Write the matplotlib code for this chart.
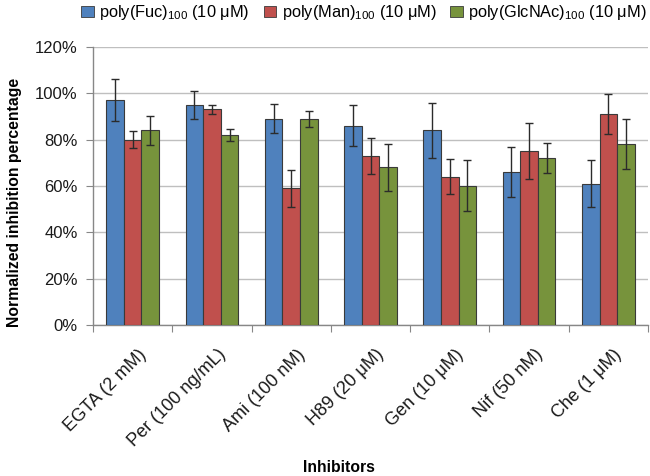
import numpy as np
import matplotlib
matplotlib.use('Agg')
import matplotlib.pyplot as plt
from matplotlib.patches import Patch
from matplotlib.ticker import FixedLocator, PercentFormatter
import matplotlib.transforms as mtransforms

plt.rcParams['font.family'] = ['Liberation Sans', 'DejaVu Sans']
plt.rcParams['mathtext.fontset'] = 'custom'
plt.rcParams['mathtext.rm'] = 'Liberation Sans'

inhibitors = ['EGTA (2 mM)', 'Per (100 ng/mL)', 'Ami (100 nM)', 'H89 (20 μM)',
              'Gen (10 μM)', 'Nif (50 nM)', 'Che (1 μM)']
series_names = ['poly(Fuc)$_{\\mathregular{100}}$ (10 μM)',
                'poly(Man)$_{\\mathregular{100}}$ (10 μM)',
                'poly(GlcNAc)$_{\\mathregular{100}}$ (10 μM)']

fuc = [97, 95, 89, 86, 84, 66, 61]
fuc_err = [9, 6, 6.2, 9, 11.8, 10.7, 10.1]
man = [80, 93, 59, 73, 64, 75, 91]
man_err = [3.6, 1.8, 8, 7.7, 7.7, 12.2, 8.6]
glc = [84, 82, 89, 68, 60, 72, 78]
glc_err = [6.2, 2.6, 3.4, 10, 11, 6.5, 10.7]

colors = ['#4F81BD', '#C0504D', '#77933C']

fig = plt.figure(figsize=(6.5, 4.76), dpi=100)
ax = fig.add_axes([0.1431, 0.3172, 0.8538, 0.5845])

x = np.arange(len(inhibitors))
w = 1 / 4.5
for i, (vals, errs) in enumerate([(fuc, fuc_err), (man, man_err), (glc, glc_err)]):
    ax.bar(x + (i - 1) * w, vals, width=w, color=colors[i], edgecolor='#3a3a3a',
           linewidth=0.8, zorder=3)
    ax.errorbar(x + (i - 1) * w, vals, yerr=errs, fmt='none', ecolor='#2b2b2b',
                elinewidth=1, capsize=2.6, capthick=1, zorder=4)

ax.set_xlim(-0.5, len(inhibitors) - 0.5)
ax.set_ylim(0, 120)
ax.set_yticks(np.arange(0, 121, 20))
ax.yaxis.set_major_formatter(PercentFormatter(decimals=0))
ax.yaxis.grid(True, color='#BFBFBF', linewidth=1, zorder=0)
ax.set_axisbelow(True)

# category boundaries get the tick marks, labels sit at centres
ax.xaxis.set_major_locator(FixedLocator(np.arange(-0.5, len(inhibitors), 1)))
ax.xaxis.set_minor_locator(FixedLocator(x))
ax.set_xticklabels([''] * len(ax.get_xticks()))
ax.set_xticks(x, minor=True)
ax.set_xticklabels(inhibitors, minor=True, rotation=45, ha='right', va='top',
                   rotation_mode='anchor', fontsize=13, color='#1a1a1a')
ax.tick_params(axis='x', which='minor', length=0, pad=15)
ax.tick_params(axis='x', which='major', length=5, color='#878787', direction='out')
ax.tick_params(axis='y', length=5, color='#878787', labelsize=12, labelcolor='#1a1a1a', pad=6)
offset = mtransforms.ScaledTranslation(5 / 100, 0, fig.dpi_scale_trans)
for lab in ax.xaxis.get_minorticklabels():
    lab.set_transform(lab.get_transform() + offset)

for side in ['top', 'right']:
    ax.spines[side].set_visible(False)
for side in ['left', 'bottom']:
    ax.spines[side].set_color('#878787')
    ax.spines[side].set_linewidth(1)

ax.set_ylabel('Normalized inhibition percentage', fontsize=11.3, fontweight='bold')
ax.yaxis.set_label_coords(-0.128, 0.44)
ax.set_xlabel('Inhibitors', fontsize=11.3, fontweight='bold')
ax.xaxis.set_label_coords((339 - 93) / 555, -(467 - 325) / 278)
ax.xaxis.label.set_va('center')

handles = [Patch(facecolor=c, edgecolor='#3a3a3a', linewidth=0.6) for c in colors]
fig.legend(handles, series_names, loc='upper left', bbox_to_anchor=(78 / 650, 1.0),
           ncol=3, frameon=False, fontsize=11.8, handlelength=0.75, handleheight=0.7,
           handletextpad=0.35, columnspacing=0.85, borderpad=0.2, borderaxespad=0)

fig.savefig('out.png', dpi=100)
